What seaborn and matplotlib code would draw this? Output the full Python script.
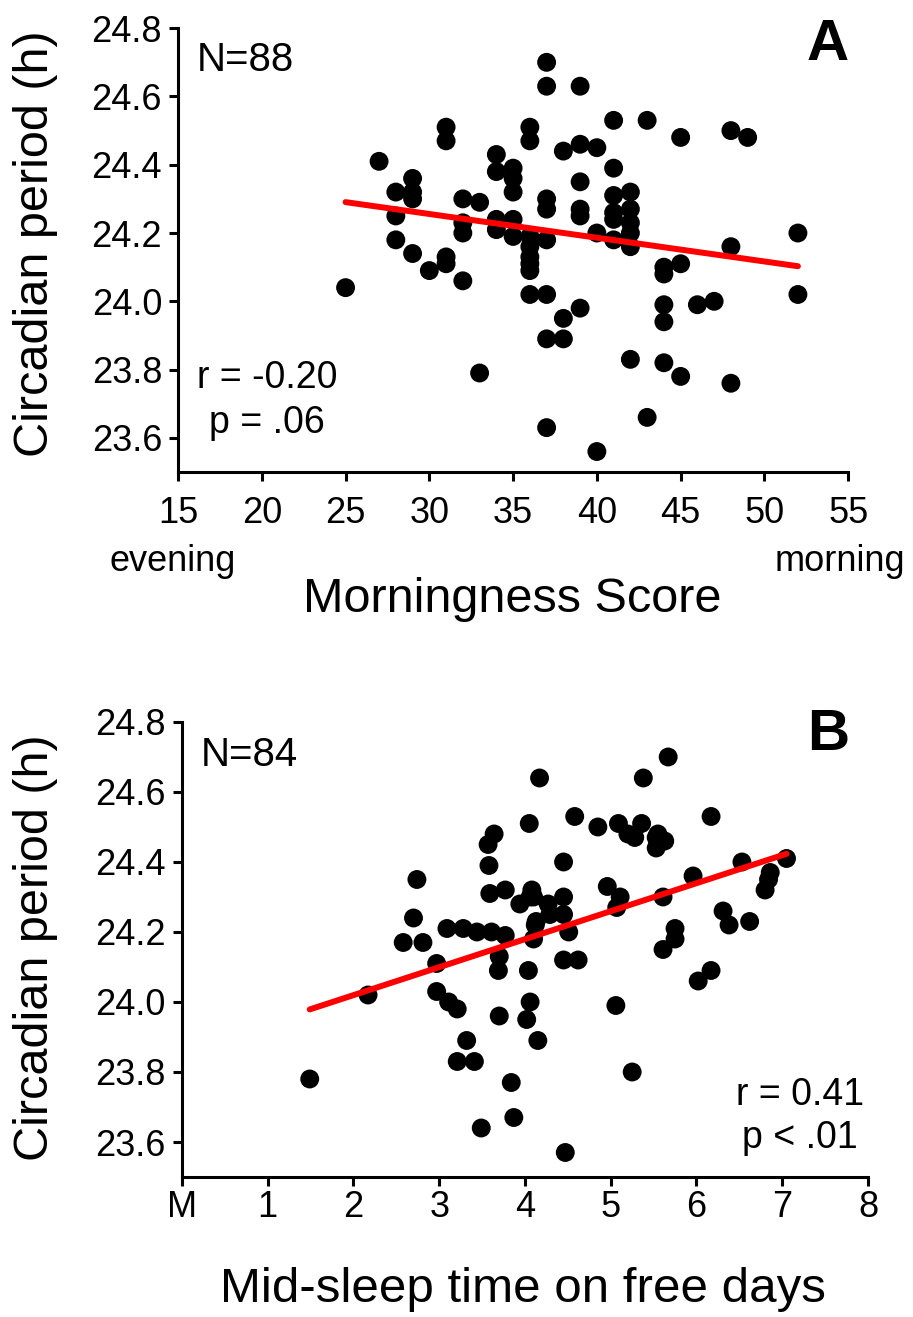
import numpy as np
import pandas as pd
import seaborn as sns
import matplotlib
matplotlib.use("Agg")
import matplotlib.pyplot as plt

# Panel A: morningness score vs circadian period
morning_score = [25, 27, 28, 28, 28, 29, 29, 29, 29, 30,
                 31, 31, 31, 31, 32, 32, 32, 32, 33, 33,
                 34, 34, 34, 34, 35, 35, 35, 35, 35,
                 36, 36, 36, 36, 36, 36, 36, 36,
                 37, 37, 37, 37, 37, 37, 37, 37,
                 38, 38, 38, 39, 39, 39, 39, 39, 39,
                 40, 40, 40, 41, 41, 41, 41, 41, 41,
                 42, 42, 42, 42, 42, 42, 43, 43,
                 44, 44, 44, 44, 44, 45, 45, 45, 46, 47,
                 48, 48, 48, 49, 52, 52]
period_a = [24.04, 24.41, 24.32, 24.25, 24.18, 24.36, 24.32, 24.30, 24.14, 24.09,
            24.51, 24.47, 24.13, 24.11, 24.30, 24.23, 24.20, 24.06, 24.29, 23.79,
            24.43, 24.38, 24.24, 24.21, 24.39, 24.36, 24.32, 24.24, 24.19,
            24.51, 24.47, 24.19, 24.16, 24.13, 24.11, 24.09, 24.02,
            24.70, 24.63, 24.30, 24.27, 24.18, 24.02, 23.89, 23.63,
            24.44, 23.95, 23.89, 24.63, 24.46, 24.35, 24.27, 24.25, 23.98,
            24.45, 24.20, 23.56, 24.53, 24.39, 24.31, 24.26, 24.24, 24.18,
            24.32, 24.27, 24.23, 24.20, 24.16, 23.83, 24.53, 23.66,
            24.10, 24.08, 23.99, 23.94, 23.82, 24.48, 24.11, 23.78, 23.99, 24.00,
            24.50, 24.16, 23.76, 24.48, 24.20, 24.02]

# Panel B: mid-sleep time on free days vs circadian period
midsleep = [1.49, 2.17, 2.58, 2.70, 2.74, 2.81, 2.97, 2.97, 3.09, 3.11,
            3.21, 3.21, 3.28, 3.32, 3.41, 3.44, 3.49, 3.57, 3.58, 3.59,
            3.61, 3.64, 3.69, 3.70, 3.70, 3.77, 3.77, 3.84, 3.87, 3.94,
            4.02, 4.05, 4.04, 4.06, 4.15, 4.06, 4.08, 4.10, 4.10, 4.13,
            4.17, 4.27, 4.29, 4.45, 4.45, 4.45, 4.45, 4.47, 4.51, 4.58,
            4.62, 4.85, 4.96, 5.06, 5.07, 5.09, 5.11, 5.25, 5.20, 5.28,
            5.36, 5.38, 5.53, 5.53, 5.55, 5.63, 5.61, 5.61, 5.67, 5.75,
            5.75, 5.96, 6.02, 6.17, 6.17, 6.31, 6.38, 6.53, 6.62, 6.80,
            6.84, 6.86, 7.05, 4.12]
period_b = [23.78, 24.02, 24.17, 24.24, 24.35, 24.17, 24.11, 24.03, 24.21, 24.00,
            23.98, 23.83, 24.21, 23.89, 23.83, 24.20, 23.64, 24.45, 24.39, 24.31,
            24.20, 24.48, 24.09, 24.13, 23.96, 24.32, 24.19, 23.77, 23.67, 24.28,
            23.95, 24.51, 24.09, 24.00, 23.89, 24.30, 24.32, 24.18, 24.30, 24.23,
            24.64, 24.28, 24.25, 24.40, 24.30, 24.25, 24.12, 23.57, 24.20, 24.53,
            24.12, 24.50, 24.33, 23.99, 24.27, 24.51, 24.30, 23.80, 24.48, 24.47,
            24.51, 24.64, 24.47, 24.44, 24.48, 24.46, 24.30, 24.15, 24.70, 24.21,
            24.18, 24.36, 24.06, 24.09, 24.53, 24.26, 24.22, 24.40, 24.23, 24.32,
            24.35, 24.37, 24.41, 24.22]

df_a = pd.DataFrame({"score": morning_score, "period": period_a})
df_b = pd.DataFrame({"midsleep": midsleep, "period": period_b})

sns.set_style("ticks")
plt.rcParams["font.family"] = ["Liberation Sans", "DejaVu Sans"]
plt.rcParams.update({
    "axes.linewidth": 2.2,
    "axes.edgecolor": "black",
    "axes.labelcolor": "black",
    "text.color": "black",
    "xtick.color": "black",
    "ytick.color": "black",
})

fig = plt.figure(figsize=(9.13, 13.17), dpi=100)
ax_a = fig.add_axes([0.195, 0.6416, 0.734, 0.337])
ax_b = fig.add_axes([0.1993, 0.1063, 0.7514, 0.3455])

dot = {"color": "black", "s": 185, "alpha": 1, "edgecolor": "none"}
fit = {"color": "#ff0000", "lw": 4.3}
yt = [23.6, 23.8, 24.0, 24.2, 24.4, 24.6, 24.8]

# ---- A ----
sns.regplot(x="score", y="period", data=df_a, ci=None, ax=ax_a,
            scatter_kws=dot, line_kws=fit)
ax_a.set_xlim(15, 55)
ax_a.set_ylim(23.5, 24.8)
ax_a.set_xticks(range(15, 56, 5))
ax_a.set_yticks(yt)
ax_a.set_yticklabels([f"{v:.1f}" for v in yt])
ax_a.tick_params(axis="both", labelsize=26, length=6.5, width=2.2)
ax_a.tick_params(axis="x", pad=11)
ax_a.tick_params(axis="y", pad=5)
ax_a.set_xlabel("Morningness Score", fontsize=35, va="center")
ax_a.xaxis.set_label_coords(0.499, -0.288)
ax_a.set_ylabel("Circadian period (h)", fontsize=35, va="center")
ax_a.yaxis.set_label_coords(-0.213, 0.514)
ax_a.text(0.028, 0.928, "N=88", transform=ax_a.transAxes, fontsize=29,
          ha="left", va="center")
ax_a.text(0.969, 0.962, "A", transform=ax_a.transAxes, fontsize=42,
          fontweight="bold", ha="center", va="center")
ax_a.text(0.133, 0.212, "r = -0.20", transform=ax_a.transAxes, fontsize=27,
          ha="center", va="center")
ax_a.text(0.133, 0.11, "p = .06", transform=ax_a.transAxes, fontsize=27,
          ha="center", va="center")
fig.text(173 / 913, 1 - 562 / 1317, "evening", fontsize=26, ha="center", va="center")
fig.text(840 / 913, 1 - 562 / 1317, "morning", fontsize=26, ha="center", va="center")

# ---- B ----
sns.regplot(x="midsleep", y="period", data=df_b, ci=None, ax=ax_b,
            scatter_kws=dot, line_kws=fit)
ax_b.set_xlim(0, 8)
ax_b.set_ylim(23.5, 24.8)
ax_b.set_xticks(range(0, 9))
ax_b.set_xticklabels(["M", "1", "2", "3", "4", "5", "6", "7", "8"])
ax_b.set_yticks(yt)
ax_b.set_yticklabels([f"{v:.1f}" for v in yt])
ax_b.tick_params(axis="both", labelsize=26, length=6.5, width=2.2)
ax_b.tick_params(axis="x", pad=3)
ax_b.tick_params(axis="y", pad=5)
ax_b.set_xlabel("Mid-sleep time on free days", fontsize=35.5, va="center")
ax_b.xaxis.set_label_coords(0.497, -0.248)
ax_b.set_ylabel("Circadian period (h)", fontsize=35, va="center")
ax_b.yaxis.set_label_coords(-0.214, 0.503)
ax_b.text(0.028, 0.927, "N=84", transform=ax_b.transAxes, fontsize=29,
          ha="left", va="center")
ax_b.text(0.942, 0.972, "B", transform=ax_b.transAxes, fontsize=42,
          fontweight="bold", ha="center", va="center")
ax_b.text(0.901, 0.18, "r = 0.41", transform=ax_b.transAxes, fontsize=27,
          ha="center", va="center")
ax_b.text(0.901, 0.086, "p < .01", transform=ax_b.transAxes, fontsize=27,
          ha="center", va="center")

for ax in (ax_a, ax_b):
    sns.despine(ax=ax)
    ax.grid(False)

fig.savefig("out.png", dpi=100)
